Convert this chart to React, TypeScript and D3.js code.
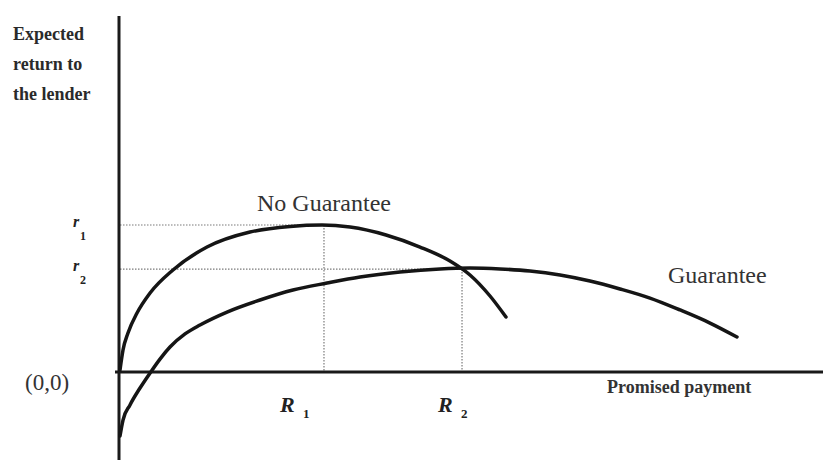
import React from "react";
import * as d3 from "d3";

// Data in abstract units (promised payment, expected return)
const noGuaranteeX = [0, 0.043, 0.114, 0.243, 0.429, 0.757, 1.243, 1.857, 2.429, 2.886, 3.286, 3.8, 4.286, 4.714, 5.0, 5.286, 5.514];
const noGuaranteeY = [0.014, 0.15, 0.265, 0.401, 0.537, 0.694, 0.85, 0.952, 0.99, 1.0, 0.986, 0.932, 0.85, 0.755, 0.66, 0.517, 0.374];
const guaranteeX = [0, 0.043, 0.143, 0.286, 0.429, 0.571, 0.714, 0.929, 1.143, 1.529, 2.0, 2.471, 2.957, 3.429, 4.0, 4.571, 5.0, 5.429, 5.857, 6.286, 6.714, 7.143, 7.571, 8.0, 8.429, 8.814];
const guaranteeY = [-0.435, -0.327, -0.224, -0.109, -0.007, 0.088, 0.17, 0.259, 0.32, 0.408, 0.49, 0.558, 0.605, 0.646, 0.68, 0.701, 0.707, 0.701, 0.687, 0.66, 0.619, 0.565, 0.503, 0.422, 0.333, 0.238];
const rValues = [1.0, 0.7];
const rLabels = ["1", "2"];
const RValues = [2.914, 4.886];
const RLabels = ["1", "2"];
const yAxisTitle = ["Expected", "return to", "the lender"];
const xAxisTitle = "Promised payment";
const originLabel = "(0,0)";
const seriesLabels = ["No Guarantee", "Guarantee"];

export default function App() {
  const W = 823, H = 460;
  const x = d3.scaleLinear().domain([0, 10]).range([120, 820]);
  const y = d3.scaleLinear().domain([0, 1]).range([372, 225]);
  const line = d3
    .line<[number, number]>()
    .x((d) => x(d[0]))
    .y((d) => y(d[1]))
    .curve(d3.curveMonotoneX);
  const ng = noGuaranteeX.map((v, i) => [v, noGuaranteeY[i]] as [number, number]);
  const g = guaranteeX.map((v, i) => [v, guaranteeY[i]] as [number, number]);
  const dotted = { stroke: "#7a7a7a", strokeWidth: 1.2, strokeDasharray: "1.5,1.5" };
  const serif = "'Liberation Serif', 'Times New Roman', serif";
  const RLabelShift = [-44, -24];

  return (
    <svg width={W} height={H} style={{ position: "absolute", left: 0, top: 0, background: "#fff" }} fontFamily={serif}>
      <rect width={W} height={H} fill="#fff" />
      {/* dotted guides */}
      <line x1={x(0)} x2={x(RValues[0])} y1={y(rValues[0])} y2={y(rValues[0])} {...dotted} />
      <line x1={x(0)} x2={x(RValues[1])} y1={y(rValues[1])} y2={y(rValues[1])} {...dotted} />
      <line x1={x(RValues[0])} x2={x(RValues[0])} y1={y(rValues[0])} y2={y(0)} {...dotted} />
      <line x1={x(RValues[1])} x2={x(RValues[1])} y1={y(rValues[1])} y2={y(0)} {...dotted} />
      {/* axes */}
      <line x1={x(0) - 1} x2={x(0) - 1} y1={16} y2={H} stroke="#1a1a1a" strokeWidth={3} />
      <line x1={115} x2={W} y1={y(0)} y2={y(0)} stroke="#1a1a1a" strokeWidth={3} />
      {/* curves */}
      <path d={line(ng) || ""} fill="none" stroke="#151515" strokeWidth={3.5} strokeLinecap="round" />
      <path d={line(g) || ""} fill="none" stroke="#151515" strokeWidth={3.5} strokeLinecap="round" />
      {/* y axis title */}
      {yAxisTitle.map((t, i) => (
        <text key={t} x={13} y={40 + i * 30} fontSize={18} fontWeight="bold" fill="#2a2a2a">{t}</text>
      ))}
      {/* r labels */}
      {rValues.map((r, i) => (
        <g key={"r" + i}>
          <text x={73} y={y(r) + 2} fontSize={16} fontWeight="bold" fontStyle="italic" fill="#222">r</text>
          <text x={80} y={y(r) + 15} fontSize={12} fontWeight="bold" fill="#222">{rLabels[i]}</text>
        </g>
      ))}
      {/* R labels */}
      {RValues.map((R, i) => (
        <g key={"R" + i}>
          <text x={x(R) + RLabelShift[i]} y={412} fontSize={22} fontWeight="bold" fontStyle="italic" fill="#222">R</text>
          <text x={x(R) + RLabelShift[i] + 23} y={418} fontSize={13} fontWeight="bold" fill="#222">{RLabels[i]}</text>
        </g>
      ))}
      <text x={25} y={390} fontSize={23} fill="#333">{originLabel}</text>
      <text x={607} y={393} fontSize={18} fontWeight="bold" fill="#333">{xAxisTitle}</text>
      <text x={257} y={211} fontSize={24} fill="#333">{seriesLabels[0]}</text>
      <text x={668} y={283} fontSize={24} fill="#333">{seriesLabels[1]}</text>
    </svg>
  );
}
